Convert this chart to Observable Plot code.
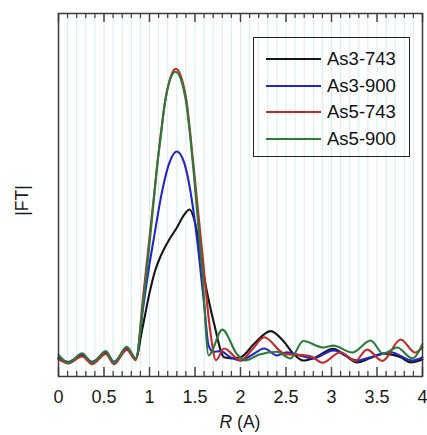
<!DOCTYPE html>
<html><head><meta charset="utf-8">
<script src="https://cdn.jsdelivr.net/npm/d3@7"></script>
<script src="https://cdn.jsdelivr.net/npm/@observablehq/plot@0.6"></script>
<style>
body{margin:0;background:#fff;font-family:"Liberation Sans",Arial,sans-serif;}
#wrap{position:relative;width:427px;height:435px;}
#legend{position:absolute;left:253px;top:37px;width:157px;height:120px;border:1.5px solid #222;box-sizing:border-box;}
.row{position:absolute;left:12px;height:22px;display:flex;align-items:center;}
.sw{width:55px;height:2px;margin-right:6px;}
.lab{font-size:18.5px;color:#111;line-height:22px;}
</style></head><body><div id="wrap"></div>
<script>
const seriesNames = ["As3-743","As3-900","As5-743","As5-900"];
const seriesColors = ["#161616","#2424c8","#c22a2a","#2e7a3c"];
const xTicksMajor = [0,0.5,1,1.5,2,2.5,3,3.5,4];

const rAs3_743 = [0,0.11,0.26,0.37,0.52,0.61,0.75,0.85,0.92,1.0,1.06,1.12,1.2,1.3,1.38,1.44,1.5,1.6,1.71,1.82,1.9,2.0,2.15,2.33,2.48,2.58,2.69,2.8,3.02,3.15,3.28,3.42,3.57,3.76,3.87,4.0];
const vAs3_743 = [0.052,0.04,0.058,0.04,0.064,0.04,0.074,0.05,0.13,0.23,0.29,0.33,0.37,0.41,0.445,0.46,0.425,0.274,0.145,0.053,0.05,0.053,0.09,0.125,0.095,0.063,0.044,0.05,0.076,0.058,0.039,0.05,0.063,0.053,0.039,0.047];

const rAs3_900 = [0,0.11,0.26,0.37,0.52,0.61,0.75,0.85,0.93,1.0,1.05,1.14,1.22,1.30,1.38,1.45,1.52,1.60,1.65,1.70,1.78,1.89,2.0,2.13,2.26,2.40,2.51,2.65,2.80,3.02,3.28,3.43,3.65,3.89,4.0];
const vAs3_900 = [0.05,0.04,0.06,0.04,0.066,0.04,0.078,0.05,0.19,0.31,0.384,0.512,0.59,0.62,0.59,0.51,0.384,0.2,0.085,0.068,0.07,0.053,0.044,0.06,0.077,0.058,0.067,0.058,0.05,0.072,0.044,0.053,0.067,0.044,0.053];

const rAs5_743 = [0,0.11,0.26,0.37,0.52,0.61,0.75,0.85,0.93,1.05,1.12,1.18,1.29,1.40,1.48,1.58,1.67,1.73,1.82,2.0,2.13,2.26,2.48,2.77,2.90,3.10,3.26,3.39,3.56,3.76,3.92,4.0];
const vAs5_743 = [0.047,0.036,0.055,0.034,0.062,0.034,0.074,0.045,0.22,0.5,0.66,0.77,0.848,0.77,0.59,0.34,0.12,0.045,0.077,0.044,0.075,0.108,0.063,0.056,0.038,0.067,0.043,0.074,0.043,0.102,0.066,0.08];

const rAs5_900 = [0,0.11,0.26,0.37,0.52,0.61,0.75,0.85,0.93,1.047,1.084,1.121,1.176,1.286,1.396,1.45,1.49,1.58,1.65,1.80,1.96,2.05,2.2,2.4,2.55,2.69,2.91,3.02,3.23,3.43,3.57,3.72,3.89,4.0];
const vAs5_900 = [0.06,0.038,0.064,0.038,0.07,0.038,0.082,0.05,0.2,0.485,0.58,0.655,0.765,0.84,0.765,0.655,0.55,0.29,0.058,0.129,0.062,0.044,0.06,0.068,0.05,0.098,0.08,0.085,0.066,0.099,0.062,0.08,0.05,0.09];

const rs = [rAs3_743,rAs3_900,rAs5_743,rAs5_900];
const vs = [vAs3_743,vAs3_900,vAs5_743,vAs5_900];
const rows = [];
seriesNames.forEach((s,i)=>rs[i].forEach((r,j)=>rows.push({series:s,R:r,FT:vs[i][j]})));

const minorTicks = d3.range(0,41).map(i=>i/10);
const W=427,H=435,mT=13,mB=59,mL=58,mR=5;
const fh = H-mT-mB;

const chart = Plot.plot({
  width:W,height:H,marginTop:mT,marginBottom:mB,marginLeft:mL,marginRight:mR,
  style:{fontFamily:"Liberation Sans, Arial, sans-serif",background:"#fff"},
  x:{domain:[0,4]},
  y:{domain:[0,1],axis:null},
  color:{domain:seriesNames,range:seriesColors},
  marks:[
    Plot.ruleX(minorTicks,{stroke:"#d8eded",strokeWidth:1}),
    ...seriesNames.map(s=>Plot.line(rows.filter(d=>d.series===s),{x:"R",y:"FT",stroke:"series",strokeWidth:2.1,curve:"monotone-x"})),
    Plot.ruleX(minorTicks.filter(t=>Math.round(t*10)%5!==0),{stroke:"#444",strokeWidth:1.3,insetTop:fh-5}),
    Plot.ruleX(minorTicks.filter(t=>Math.round(t*10)%5!==0),{stroke:"#444",strokeWidth:1.3,insetBottom:fh-5}),
    Plot.ruleX(xTicksMajor,{stroke:"#444",strokeWidth:1.5,insetTop:fh-9}),
    Plot.ruleX(xTicksMajor,{stroke:"#444",strokeWidth:1.5,insetBottom:fh-9}),
    Plot.axisX(xTicksMajor,{anchor:"bottom",tickSize:0,tickPadding:14,fontSize:18,fill:"#1a1a1a",label:null,tickFormat:d=>String(d)}),
    Plot.frame({stroke:"#3a3a3a",strokeWidth:1.5})
  ]
});
const wrap = document.getElementById("wrap");
wrap.appendChild(chart);

const svg = d3.select(chart);
const xl = svg.append("text").attr("x",(mL+W-mR)/2).attr("y",428).attr("text-anchor","middle")
  .attr("font-size",17.5).attr("fill","#1a1a1a").attr("font-family","Liberation Sans, Arial, sans-serif");
xl.append("tspan").attr("font-style","italic").text("R");
xl.append("tspan").text(" (A)");
svg.append("text").attr("transform",`translate(28,${mT+fh/2+6}) rotate(-90)`).attr("text-anchor","middle")
  .attr("font-size",17.5).attr("fill","#1a1a1a").attr("font-family","Liberation Sans, Arial, sans-serif").text("|FT|");

const leg = document.createElement("div");
leg.id="legend";
seriesNames.forEach((s,i)=>{
  const row=document.createElement("div");row.className="row";row.style.top=(10+i*26.5)+"px";
  const sw=document.createElement("div");sw.className="sw";sw.style.background=seriesColors[i];
  const lab=document.createElement("span");lab.className="lab";lab.textContent=s;
  row.appendChild(sw);row.appendChild(lab);leg.appendChild(row);
});
wrap.appendChild(leg);
</script></body></html>
